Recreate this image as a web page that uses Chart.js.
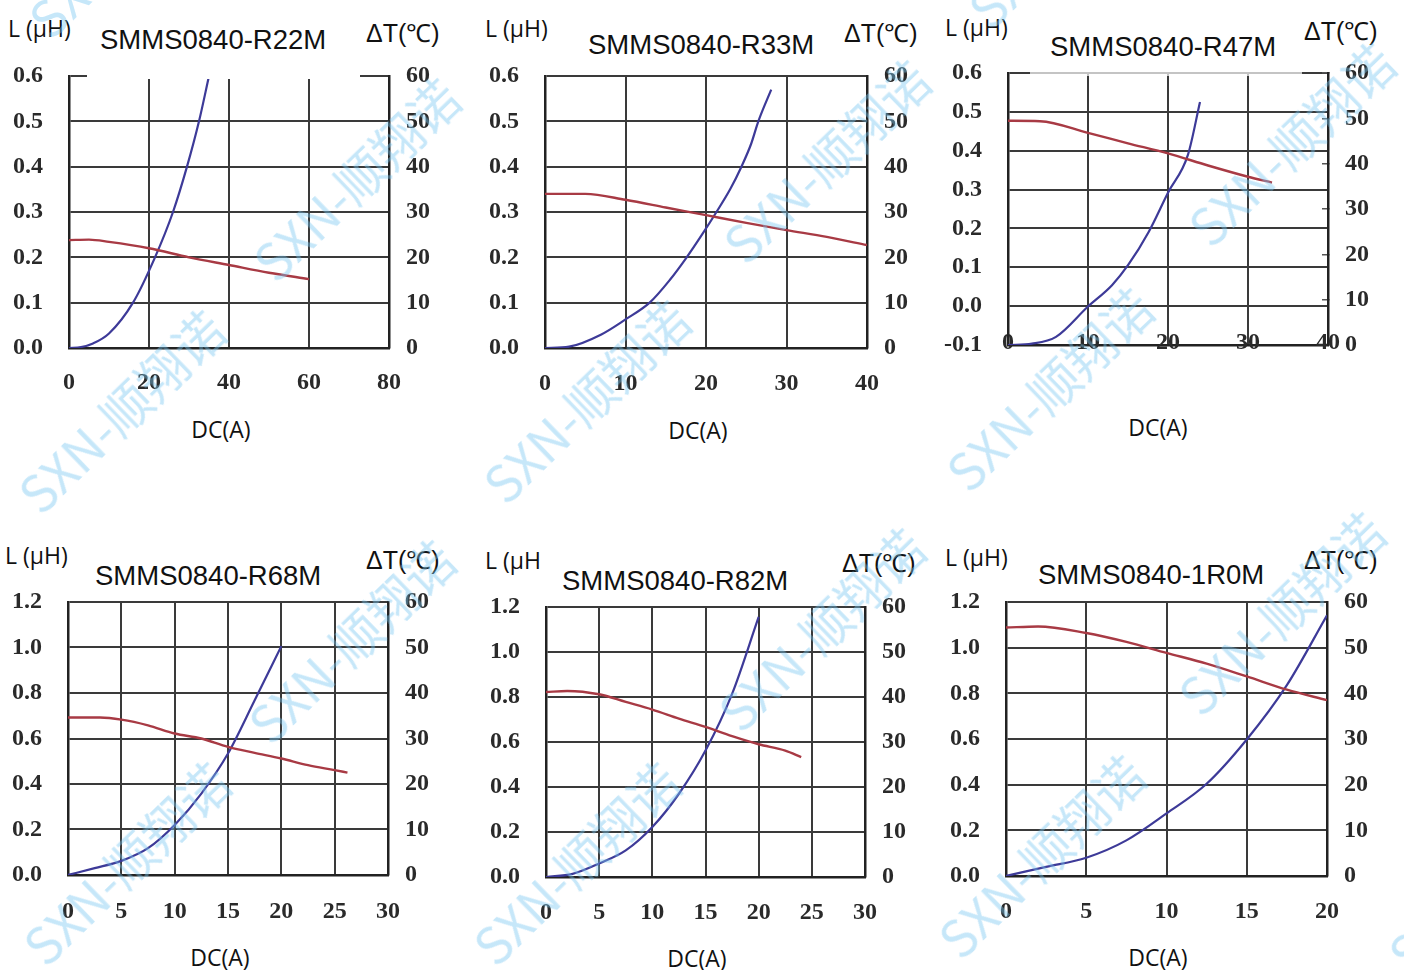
<!DOCTYPE html>
<html>
<head>
<meta charset="utf-8">
<script src="https://cdn.jsdelivr.net/npm/chart.js@4.4.1/dist/chart.umd.min.js"></script>
<style>
html, body { margin: 0; padding: 0; background: #fff; }
#page { position: relative; width: 1404px; height: 970px; overflow: hidden; background: #fff; }
.panel { position: absolute; }
.panel canvas { display: block; }
.txt { position: absolute; white-space: nowrap; line-height: 1; color: #111; z-index: 3; }
.title { font: 27.5px "Liberation Sans", Arial, sans-serif; }
.lab { font: 23px "Open Sans", sans-serif; }
.dt { font: 25px "Liberation Sans", Arial, sans-serif; }
.dc { font: 23px "Open Sans", sans-serif; transform: translate(-50%, -50%); }
.mask { position: absolute; z-index: 2; }
.wm { position: absolute; z-index: 5; white-space: nowrap; line-height: 1; pointer-events: none;
      font: 400 50px "Noto Sans CJK SC", sans-serif; color: rgba(120, 198, 240, 0.42);
      transform: translate(-50%, -50%) rotate(-44deg); }
</style>
</head>
<body>
<div id="page">
  <div class="panel" id="p1"><canvas id="c1"></canvas></div>
  <div class="panel" id="p2"><canvas id="c2"></canvas></div>
  <div class="panel" id="p3"><canvas id="c3"></canvas></div>
  <div class="panel" id="p4"><canvas id="c4"></canvas></div>
  <div class="panel" id="p5"><canvas id="c5"></canvas></div>
  <div class="panel" id="p6"><canvas id="c6"></canvas></div>

  <div class="mask" style="left:87px;top:72px;width:273px;height:7px;background:#fff;"></div>
  <div class="mask" style="left:1030px;top:70px;width:272px;height:6px;background:rgba(255,255,255,0.7);"></div>

  <div class="txt title" style="left:100px;top:24px;">SMMS0840-R22M</div>
  <div class="txt title" style="left:588px;top:29px;">SMMS0840-R33M</div>
  <div class="txt title" style="left:1050px;top:31px;">SMMS0840-R47M</div>
  <div class="txt title" style="left:95px;top:560px;">SMMS0840-R68M</div>
  <div class="txt title" style="left:562px;top:565px;">SMMS0840-R82M</div>
  <div class="txt title" style="left:1038px;top:559px;">SMMS0840-1R0M</div>

  <div class="txt lab" style="left:8px;top:12px;">L (μH)</div>
  <div class="txt lab" style="left:485px;top:12px;">L (μH)</div>
  <div class="txt lab" style="left:945px;top:11px;">L (μH)</div>
  <div class="txt lab" style="left:5px;top:539px;">L (μH)</div>
  <div class="txt lab" style="left:485px;top:544px;">L (μH</div>
  <div class="txt lab" style="left:945px;top:541px;">L (μH)</div>

  <div class="txt dt" style="left:366px;top:15px;">ΔT(℃)</div>
  <div class="txt dt" style="left:844px;top:15px;">ΔT(℃)</div>
  <div class="txt dt" style="left:1304px;top:13px;">ΔT(℃)</div>
  <div class="txt dt" style="left:366px;top:542px;">ΔT(℃)</div>
  <div class="txt dt" style="left:842px;top:545px;">ΔT(℃)</div>
  <div class="txt dt" style="left:1304px;top:542px;">ΔT(℃)</div>

  <div class="txt dc" style="left:221px;top:429px;">DC(A)</div>
  <div class="txt dc" style="left:698px;top:430px;">DC(A)</div>
  <div class="txt dc" style="left:1158px;top:427px;">DC(A)</div>
  <div class="txt dc" style="left:220px;top:957px;">DC(A)</div>
  <div class="txt dc" style="left:697px;top:958px;">DC(A)</div>
  <div class="txt dc" style="left:1158px;top:957px;">DC(A)</div>

  <div class="wm" style="left:120px;top:410px;">SXN-顺翔诺</div>
  <div class="wm" style="left:355px;top:178px;">SXN-顺翔诺</div>
  <div class="wm" style="left:585px;top:400px;">SXN-顺翔诺</div>
  <div class="wm" style="left:825px;top:160px;">SXN-顺翔诺</div>
  <div class="wm" style="left:1048px;top:388px;">SXN-顺翔诺</div>
  <div class="wm" style="left:1290px;top:143px;">SXN-顺翔诺</div>
  <div class="wm" style="left:125px;top:862px;">SXN-顺翔诺</div>
  <div class="wm" style="left:350px;top:640px;">SXN-顺翔诺</div>
  <div class="wm" style="left:575px;top:862px;">SXN-顺翔诺</div>
  <div class="wm" style="left:820px;top:628px;">SXN-顺翔诺</div>
  <div class="wm" style="left:1040px;top:855px;">SXN-顺翔诺</div>
  <div class="wm" style="left:1280px;top:612px;">SXN-顺翔诺</div>
  <div class="wm" style="left:130px;top:-65px;">SXN-顺翔诺</div>
  <div class="wm" style="left:1070px;top:-75px;">SXN-顺翔诺</div>
  <div class="wm" style="left:1490px;top:870px;">SXN-顺翔诺</div>
</div>

<script>
// --- axis ticks ---
const lTicksLow = [0, 0.1, 0.2, 0.3, 0.4, 0.5, 0.6];
const lTicksR47 = [-0.1, 0, 0.1, 0.2, 0.3, 0.4, 0.5, 0.6];
const lTicksHigh = [0, 0.2, 0.4, 0.6, 0.8, 1.0, 1.2];
const tTicks = [0, 10, 20, 30, 40, 50, 60];
const r22mCurrentTicks = [0, 20, 40, 60, 80];
const r33mCurrentTicks = [0, 10, 20, 30, 40];
const r47mCurrentTicks = [0, 10, 20, 30, 40];
const r68mCurrentTicks = [0, 5, 10, 15, 20, 25, 30];
const r82mCurrentTicks = [0, 5, 10, 15, 20, 25, 30];
const r1r0mCurrentTicks = [0, 5, 10, 15, 20];

// --- SMMS0840-R22M ---
const r22mLCurrent = [0, 5, 10, 20, 30, 40, 50, 60];
const r22mL = [0.238, 0.239, 0.234, 0.220, 0.200, 0.183, 0.166, 0.152];
const r22mTCurrent = [0, 3, 6, 10, 16, 21.5, 26, 29.5, 32.5, 35];
const r22mT = [0, 0.2, 1, 3.2, 10, 20, 30, 40, 50, 60];

// --- SMMS0840-R33M ---
const r33mLCurrent = [0, 5, 10, 15, 20, 25, 30, 35, 40];
const r33mL = [0.340, 0.340, 0.327, 0.310, 0.293, 0.276, 0.260, 0.245, 0.227];
const r33mTCurrent = [0, 3, 7, 10, 13, 15.5, 17.6, 19.5, 21.3, 23, 24.4, 25.6, 26.5, 28.1];
const r33mT = [0, 0.3, 3, 6.3, 10, 15, 20, 25, 30, 35, 40, 45, 50, 57];

// --- SMMS0840-R47M ---
const r47mLCurrent = [0, 4, 10, 15, 20, 25, 30, 33];
const r47mL = [0.477, 0.476, 0.446, 0.419, 0.393, 0.362, 0.333, 0.318];
const r47mTCurrent = [0, 3, 6, 10, 13, 15, 17.6, 20, 22.5, 24];
const r47mT = [0, 0.3, 1.8, 8.5, 13.2, 17.6, 25, 33.6, 42, 53.6];

// --- SMMS0840-R68M ---
const r68mLCurrent = [0, 3, 5, 7.5, 10, 12.5, 15, 17.5, 20, 22.5, 25, 26.2];
const r68mL = [0.692, 0.692, 0.683, 0.658, 0.622, 0.600, 0.563, 0.537, 0.512, 0.483, 0.461, 0.450];
const r68mTCurrent = [0, 2.5, 5, 7.5, 10, 12.5, 15, 17.5, 20];
const r68mT = [0, 1.5, 3.1, 5.9, 11, 17.9, 26.7, 38.4, 50.3];

// --- SMMS0840-R82M ---
const r82mLCurrent = [0, 2, 5, 7.5, 10, 12.5, 15, 17.5, 20, 22.5, 24];
const r82mL = [0.822, 0.827, 0.812, 0.778, 0.744, 0.704, 0.667, 0.626, 0.590, 0.562, 0.533];
const r82mTCurrent = [0, 2.5, 5, 7.5, 10, 12.5, 15, 17.5, 20];
const r82mT = [0, 0.7, 3, 5.9, 11.1, 18.5, 28.1, 40.7, 57.8];

// --- SMMS0840-1R0M ---
const r1r0mLCurrent = [0, 2, 5, 7.5, 10, 12.5, 15, 17.5, 20];
const r1r0mL = [1.088, 1.093, 1.064, 1.025, 0.977, 0.930, 0.874, 0.816, 0.770];
const r1r0mTCurrent = [0, 2.5, 5, 7.5, 10, 12.5, 15, 17.5, 20];
const r1r0mT = [0, 2, 4, 7.8, 13.7, 20.2, 29.9, 41.8, 57.1];

const RED = '#a83a44';
const BLUE = '#3d3a98';
const GRID = '#3a3a3a';
const TICK_FONT = { family: '"Liberation Serif", serif', size: 24, weight: 'bold' };
const TICK_COLOR = '#2a2a2a';

function pts(xs, ys) {
    return xs.map((x, i) => ({ x: x, y: ys[i] }));
}

function fixTicks(arr) {
    return (scale) => { scale.ticks = arr.map(v => ({ value: v })); };
}

// y axes: fixed width, no extra label padding pushing the plot down
function fitY(s) {
    s.width = 65;
    s.paddingTop = 0;
    s.paddingBottom = 0;
}

function fitX(s) {
    s.height = 50;
    s.paddingLeft = 0;
    s.paddingRight = 0;
}

// box = [plotLeft, plotTop, plotWidth, plotHeight]
function makePanel(n, box, p) {
    const wrap = document.getElementById('p' + n);
    const cv = document.getElementById('c' + n);
    const w = box[2] + 130, h = box[3] + 60;
    wrap.style.left = (box[0] - 65) + 'px';
    wrap.style.top = (box[1] - 10) + 'px';
    cv.width = w; cv.height = h;
    cv.style.width = w + 'px'; cv.style.height = h + 'px';

    new Chart(cv.getContext('2d'), {
        type: 'line',
        data: {
            datasets: [
                { label: 'L', data: pts(p.lx, p.l), yAxisID: 'y', borderColor: RED, borderWidth: 2.4, pointRadius: 0, cubicInterpolationMode: 'monotone', fill: false },
                { label: 'ΔT', data: pts(p.tx, p.t), yAxisID: 'y1', borderColor: BLUE, borderWidth: 2.2, pointRadius: 0, cubicInterpolationMode: 'monotone', fill: false }
            ]
        },
        options: {
            responsive: false,
            animation: false,
            events: [],
            layout: { padding: { top: 10, left: 0, right: 0, bottom: 0 } },
            plugins: { legend: { display: false }, tooltip: { enabled: false } },
            scales: {
                x: {
                    type: 'linear',
                    min: p.xTicks[0], max: p.xTicks[p.xTicks.length - 1],
                    afterBuildTicks: fixTicks(p.xTicks),
                    afterFit: fitX,
                    grid: { color: GRID, lineWidth: 2, drawTicks: false },
                    border: { color: '#222', width: 2.5 },
                    ticks: { font: TICK_FONT, color: TICK_COLOR, padding: p.xPad, mirror: !!p.xMirror, maxRotation: 0, autoSkip: false }
                },
                y: {
                    position: 'left',
                    min: p.lTicks[0], max: p.lTicks[p.lTicks.length - 1],
                    afterBuildTicks: fixTicks(p.lTicks),
                    afterFit: fitY,
                    grid: { color: GRID, lineWidth: 2, drawTicks: false },
                    border: { color: '#222', width: 2.5 },
                    ticks: { font: TICK_FONT, color: TICK_COLOR, padding: 26, autoSkip: false, callback: (v) => v.toFixed(1) }
                },
                y1: {
                    position: 'right',
                    min: 0, max: 60,
                    afterBuildTicks: fixTicks(tTicks),
                    afterFit: fitY,
                    grid: { drawOnChartArea: false, drawTicks: !!p.rightMarks, tickLength: -6, color: '#555', lineWidth: 1.5 },
                    border: { color: '#222', width: 2.5 },
                    ticks: { font: TICK_FONT, color: TICK_COLOR, padding: p.rightMarks ? 23 : 17, autoSkip: false }
                }
            }
        }
    });
}

makePanel(1, [69, 76, 320, 272], { lx: r22mLCurrent, l: r22mL, tx: r22mTCurrent, t: r22mT, xTicks: r22mCurrentTicks, lTicks: lTicksLow, xPad: 20 });
makePanel(2, [545, 76, 322, 272], { lx: r33mLCurrent, l: r33mL, tx: r33mTCurrent, t: r33mT, xTicks: r33mCurrentTicks, lTicks: lTicksLow, xPad: 21 });
makePanel(3, [1008, 73, 320, 272], { lx: r47mLCurrent, l: r47mL, tx: r47mTCurrent, t: r47mT, xTicks: r47mCurrentTicks, lTicks: lTicksR47, xPad: -12, xMirror: true, rightMarks: true });
makePanel(4, [68, 602, 320, 273], { lx: r68mLCurrent, l: r68mL, tx: r68mTCurrent, t: r68mT, xTicks: r68mCurrentTicks, lTicks: lTicksHigh, xPad: 22 });
makePanel(5, [546, 607, 319, 270], { lx: r82mLCurrent, l: r82mL, tx: r82mTCurrent, t: r82mT, xTicks: r82mCurrentTicks, lTicks: lTicksHigh, xPad: 21 });
makePanel(6, [1006, 602, 321, 274], { lx: r1r0mLCurrent, l: r1r0mL, tx: r1r0mTCurrent, t: r1r0mT, xTicks: r1r0mCurrentTicks, lTicks: lTicksHigh, xPad: 21 });
</script>
</body>
</html>
